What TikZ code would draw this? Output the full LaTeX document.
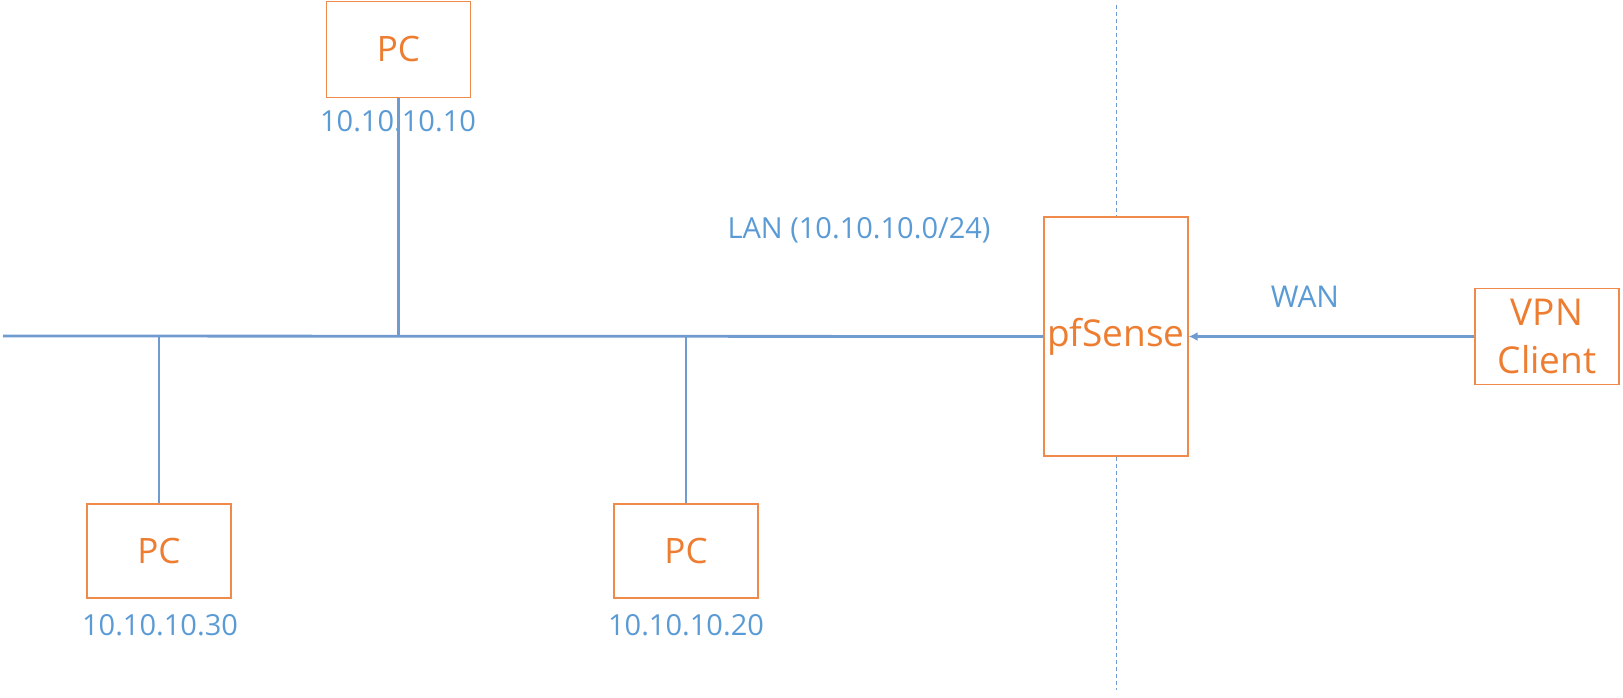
\documentclass[tikz,border=0pt]{standalone}
\usepackage{fontspec}
\setmainfont{Open Sans}
\usetikzlibrary{arrows.meta}
\definecolor{orng}{HTML}{ED7D31}
\definecolor{boxline}{HTML}{F08A4B}
\definecolor{lblue}{HTML}{5B9BD5}
\definecolor{wire}{HTML}{6F9BD0}
\begin{document}
\begin{tikzpicture}[x=1pt,y=-1pt,
  dev/.style={draw=boxline,line width=1.2pt,fill=white,text=orng,inner sep=0pt,font=\fontsize{35}{38}\selectfont,align=center},
  lbl/.style={text=lblue,font=\fontsize{29}{32}\selectfont,inner sep=0pt},
  wireline/.style={draw=wire,line width=2.8pt},
  sep/.style={draw=wire,line width=1pt,dash pattern=on 4pt off 3pt}]
\useasboundingbox (0,0) rectangle (1623,698);
% nodes
\node[dev,minimum width=144pt,minimum height=96pt] (pctop) at (398.5,49.5) {PC};
\node[dev,minimum width=144pt,minimum height=94pt] (pcleft) at (159,551) {PC};
\node[dev,minimum width=144pt,minimum height=94pt] (pcmid) at (686,551) {PC};
\node[dev,minimum width=144pt,minimum height=239pt,font=\fontsize{37}{40}\selectfont] (pf) at (1116,336.5) {pfSense};
\node[dev,minimum width=144pt,minimum height=96pt,font=\fontsize{37}{48}\selectfont] (vpn) at (1547,336.5) {VPN\\Client};
% labels
\node[lbl] (l1) at (398,121) {10.10.10.10};
\node[lbl] (l3) at (160,625) {10.10.10.30};
\node[lbl] (l2) at (686,625) {10.10.10.20};
\node[lbl] (lan) at (859,230) {LAN (10.10.10.0/24)};
\node[lbl,font=\fontsize{30}{32}\selectfont] (wan) at (1305,297) {WAN};
% coordinates
\coordinate (lanstart) at (3,336);
\coordinate (j1) at (159,336);
\coordinate (j2) at (398.5,336);
\coordinate (j3) at (686,336);
\coordinate (dtop) at (1116,5);
\coordinate (dbot) at (1116,690);
% wires
\draw[wireline] (lanstart) -- (pf.west);
\draw[wireline] (pctop.south) -- (j2);
\draw[wireline] (j1) -- (pcleft.north);
\draw[wireline] (j3) -- (pcmid.north);
\draw[wireline,-{Latex[length=9pt,width=9pt]}] (vpn.west) -- (pf.east);
% separator
\draw[sep] (dtop) -- (pf.north);
\draw[sep] (pf.south) -- (dbot);
\end{tikzpicture}
\end{document}
